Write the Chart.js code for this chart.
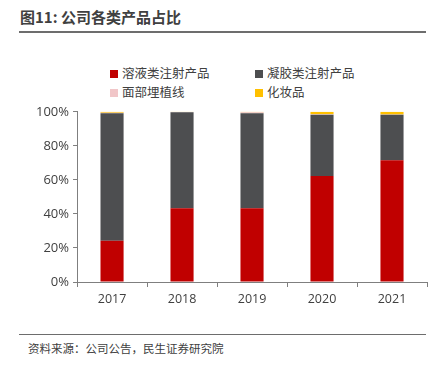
<!DOCTYPE html>
<html><head><meta charset="utf-8">
<script src="https://cdn.jsdelivr.net/npm/chart.js@4/dist/chart.umd.min.js"></script>
<style>
html,body{margin:0;padding:0;background:#fff;width:435px;height:365px;overflow:hidden;font-family:"Noto Sans CJK SC","Noto Sans",sans-serif;}
#title{position:absolute;left:20px;top:6px;font-size:15px;font-weight:bold;color:#404040;letter-spacing:0px;}
#tline{position:absolute;left:19px;top:31px;width:407px;height:2px;background:#6d6d6d;}
#bline{position:absolute;left:19px;top:334px;width:407px;height:1px;background:#6d6d6d;}
#src{position:absolute;left:28px;top:340px;font-size:11.5px;color:#404040;}
#legend{position:absolute;left:110px;top:64px;width:300px;font-size:12.5px;color:#404040;}
.li{position:absolute;white-space:nowrap;line-height:18px;}
.sw{display:inline-block;width:8px;height:8px;margin-right:4px;vertical-align:0px;}
#wrap{position:absolute;left:0;top:100px;width:435px;height:215px;}
</style></head>
<body>
<div id="title">图11: 公司各类产品占比</div>
<div id="tline"></div>
<div id="legend"></div>
<div id="wrap"><canvas id="c"></canvas></div>
<div id="bline"></div>
<div id="src">资料来源：公司公告，民生证券研究院</div>
<script>
const categories = ['2017','2018','2019','2020','2021'];
const seriesNames = ['溶液类注射产品','凝胶类注射产品','面部埋植线','化妆品'];
const solution = [24.3, 43.4, 43.4, 62.3, 71.6];
const gel = [74.9, 56.4, 55.8, 35.9, 26.6];
const thread = [0.3, 0.1, 0.6, 0.3, 0.2];
const cosmetics = [0.5, 0.1, 0.2, 1.5, 1.6];
const yTicks = [0, 20, 40, 60, 80, 100];
const colors = ['#c00000', '#4d4e50', '#f1c6c8', '#ffc000'];

const seriesData = [solution, gel, thread, cosmetics];
const legendPos = [[0,0],[145,0],[0,19],[145,19]];
const lg = document.getElementById('legend');
seriesNames.forEach((n,i)=>{
  const d = document.createElement('div');
  d.className='li';
  d.style.left=legendPos[i][0]+'px'; d.style.top=legendPos[i][1]+'px';
  d.innerHTML='<span class="sw" style="background:'+colors[i]+'"></span>'+n;
  lg.appendChild(d);
});

new Chart(document.getElementById('c'), {
  type:'bar',
  data:{
    labels:categories,
    datasets: seriesNames.map((n,i)=>({label:n,data:seriesData[i],backgroundColor:colors[i],borderWidth:0,barPercentage:0.66,categoryPercentage:0.5}))
  },
  options:{
    responsive:true, maintainAspectRatio:false, animation:false,
    layout:{padding:{left:32,right:8,top:8,bottom:3}},
    plugins:{legend:{display:false},tooltip:{enabled:false}},
    scales:{
      x:{stacked:true,
        grid:{offset:true,drawOnChartArea:false,drawTicks:true,tickLength:5,color:'#7f7f7f',tickColor:'#7f7f7f'},
        border:{color:'#7f7f7f',width:1},
        ticks:{color:'#404040',font:{family:'"Open Sans","Noto Sans",sans-serif',size:12.5},padding:5}
      },
      y:{stacked:true,min:0,max:100,
        afterBuildTicks:(ax)=>{ax.ticks=yTicks.map(v=>({value:v}));},
        grid:{drawOnChartArea:false,drawTicks:true,tickLength:4,color:'#7f7f7f',tickColor:'#7f7f7f'},
        border:{color:'#7f7f7f',width:1},
        ticks:{color:'#404040',font:{family:'"Open Sans","Noto Sans",sans-serif',size:13},padding:4,callback:v=>v+'%'}
      }
    }
  }
});
</script>
</body></html>
